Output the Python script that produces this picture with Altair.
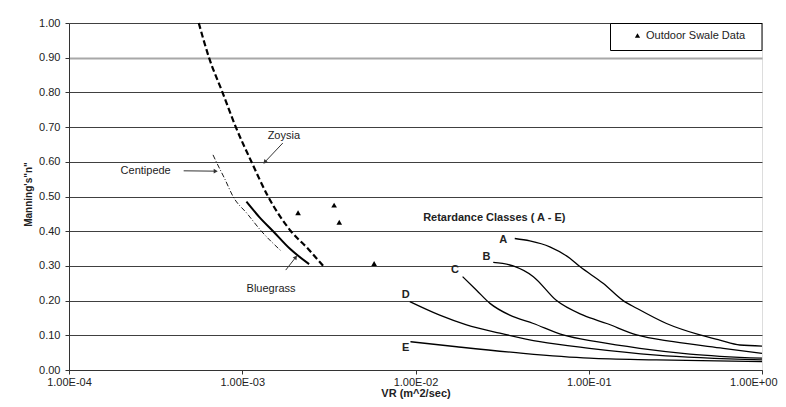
import altair as alt
import pandas as pd

# ---------------- data ----------------
zoysia_x = [5.61e-4, 6.43e-4, 7.69e-4, 9.18e-4, 1.13e-3, 1.41e-3, 1.91e-3, 2.39e-3, 2.99e-3]
zoysia_n = [1.00, 0.90, 0.80, 0.70, 0.60, 0.50, 0.40, 0.35, 0.295]

bluegrass_x = [1.057e-3, 1.259e-3, 1.507e-3, 1.879e-3, 2.432e-3]
bluegrass_n = [0.485, 0.44, 0.40, 0.35, 0.305]

centipede_x = [6.78e-4, 7.08e-4, 7.94e-4, 8.85e-4, 1.07e-3, 1.29e-3, 1.66e-3]
centipede_n = [0.62, 0.60, 0.55, 0.50, 0.45, 0.40, 0.345]

a_x = [0.0374, 0.0457, 0.0596, 0.0778, 0.0889, 0.121, 0.158, 0.189, 0.281, 0.438, 0.571, 0.745, 1.0]
a_n = [0.379, 0.372, 0.355, 0.322, 0.298, 0.25, 0.20, 0.178, 0.134, 0.101, 0.086, 0.072, 0.069]

b_x = [0.0281, 0.0366, 0.0479, 0.0652, 0.0929, 0.127, 0.189, 0.308, 0.597, 1.0]
b_n = [0.31, 0.300, 0.269, 0.20, 0.158, 0.134, 0.101, 0.0815, 0.0625, 0.048]

c_x = [0.0187, 0.0225, 0.0269, 0.0350, 0.0479, 0.0711, 0.111, 0.197, 0.384, 1.0]
c_n = [0.269, 0.23, 0.192, 0.158, 0.134, 0.101, 0.0815, 0.0625, 0.046, 0.034]

d_x = [9.27e-3, 0.0138, 0.0197, 0.0307, 0.0522, 0.101, 0.246, 1.0]
d_n = [0.197, 0.158, 0.13, 0.106, 0.0815, 0.0625, 0.043, 0.029]

e_x = [9.35e-3, 0.0173, 0.0419, 0.101, 0.246, 1.0]
e_n = [0.0815, 0.067, 0.048, 0.034, 0.029, 0.024]

swale_x = [2.10e-3, 3.39e-3, 3.63e-3, 5.77e-3]
swale_n = [0.453, 0.475, 0.426, 0.307]

# annotations (text, x, n)
plain_labels = ["Zoysia", "Centipede", "Bluegrass"]
plain_x = [1.738e-3, 2.77e-4, 1.466e-3]
plain_n = [0.674, 0.574, 0.233]

class_labels = ["A", "B", "C", "D", "E"]
class_x = [0.0321, 0.0257, 0.01687, 8.79e-3, 8.79e-3]
class_n = [0.374, 0.326, 0.288, 0.216, 0.0625]

heading_text = ["Retardance Classes ( A - E)"]
heading_x = [1.107e-2]
heading_n = [0.437]

# arrows: tail -> head
arrow_x1 = [1.714e-3, 4.59e-4, 1.782e-3]
arrow_n1 = [0.654, 0.574, 0.288]
arrow_x2 = [1.349e-3, 7.03e-4, 2.037e-3]
arrow_n2 = [0.599, 0.573, 0.325]
arrow_angle = [223, 90, 38]

y_ticks = [0.0, 0.1, 0.2, 0.3, 0.4, 0.5, 0.6, 0.7, 0.8, 0.9, 1.0]
x_ticks = [1e-4, 1e-3, 1e-2, 1e-1, 1.0]

# ---------------- tables ----------------
rows = []
for name, xs, ns in [("Zoysia", zoysia_x, zoysia_n), ("Bluegrass", bluegrass_x, bluegrass_n),
                     ("Centipede", centipede_x, centipede_n), ("A", a_x, a_n), ("B", b_x, b_n),
                     ("C", c_x, c_n), ("D", d_x, d_n), ("E", e_x, e_n)]:
    for i, (xv, nv) in enumerate(zip(xs, ns)):
        rows.append({"series": name, "x": xv, "n": nv, "order": i})
curves = pd.DataFrame(rows)

swale = pd.DataFrame({"x": swale_x, "n": swale_n, "kind": ["Outdoor Swale Data"] * len(swale_x)})
plain = pd.DataFrame({"label": plain_labels, "x": plain_x, "n": plain_n})
classes = pd.DataFrame({"label": class_labels, "x": class_x, "n": class_n})
heading = pd.DataFrame({"label": heading_text, "x": heading_x, "n": heading_n})
arrows = pd.DataFrame({"x": arrow_x1, "n": arrow_n1, "x2": arrow_x2, "n2": arrow_n2, "angle": arrow_angle})

FONT = "Liberation Sans"
TXT = "#222222"

xscale = alt.Scale(type="log", domain=[1e-4, 1.0])
yscale = alt.Scale(domain=[0, 1])

x_axis = alt.Axis(
    values=x_ticks,
    labelExpr="datum.value >= 1 ? '1.00E+00' : '1.00E-0' + round(-log(datum.value)/LN10)",
    labelAlign={"condition": {"test": "datum.value >= 1", "value": "right"}, "value": "center"},
    labelOffset={"condition": {"test": "datum.value >= 1", "value": 15}, "value": 0},
    grid=False, tickSize=4, labelPadding=2, labelFontSize=11, labelColor=TXT,
    domainColor="#333333", tickColor="#333333", labelFlush=False, labelOverlap=False,
    title="VR (m^2/sec)", titleFontSize=11, titleFontWeight="bold", titleColor=TXT,
    titleBaseline="middle", titleY=23,
)
y_axis = alt.Axis(
    values=y_ticks, format=".2f", grid=True, labelOverlap=False,
    gridColor={"condition": {"test": "abs(datum.value - 0.9) < 0.001", "value": "#a8a8a8"}, "value": "#404040"},
    gridWidth={"condition": {"test": "abs(datum.value - 0.9) < 0.001", "value": 2}, "value": 1},
    tickSize=4, labelPadding=5, labelFontSize=11, labelColor=TXT,
    domainColor="#333333", tickColor="#333333",
    title="Manning's\"n\"", titleFontSize=10, titleFontWeight="bold", titleColor=TXT,
    titleAngle=270, titleBaseline="middle", titleAlign="center", titleX=-41, titleY=171,
)


def X(field):
    return alt.X(f"{field}:Q", scale=xscale, axis=x_axis)


def Y(field):
    return alt.Y(f"{field}:Q", scale=yscale, axis=y_axis)


def curve_layer(names, width, dash=None):
    kw = dict(color="black", strokeWidth=width, interpolate="monotone")
    if dash:
        kw["strokeDash"] = dash
    return alt.Chart(curves).transform_filter(
        alt.FieldOneOfPredicate(field="series", oneOf=names)
    ).mark_line(**kw).encode(
        x=X("x"), y=Y("n"), detail="series:N", order="order:Q"
    )


zoysia_layer = curve_layer(["Zoysia"], 2.2, [6, 3])
blue_layer = curve_layer(["Bluegrass"], 2)
cent_layer = curve_layer(["Centipede"], 0.9, [5, 2, 1, 2])
class_layer = curve_layer(["A", "B", "C", "D", "E"], 1.3)

box = alt.Chart(pd.DataFrame({"k": [0]})).mark_rect(
    fill="white", stroke="black", strokeWidth=1
).encode(x=alt.value(541.5), x2=alt.value(693), y=alt.value(0.5), y2=alt.value(27.5))

swale_layer = alt.Chart(swale).mark_point(filled=True, size=32, opacity=1).encode(
    x=X("x"), y=Y("n"),
    shape=alt.Shape("kind:N", scale=alt.Scale(range=["triangle-up"]),
                    legend=alt.Legend(title=None, orient="none", legendX=563, legendY=7,
                                      labelFontSize=11, labelColor=TXT, labelFont=FONT,
                                      symbolSize=28, symbolFillColor="black", symbolStrokeColor="black",
                                      labelOffset=3, padding=0, zindex=2)),
    color=alt.value("black"),
)

plain_layer = alt.Chart(plain).mark_text(fontSize=11, color=TXT, font=FONT).encode(
    x=X("x"), y=Y("n"), text="label:N")
class_text = alt.Chart(classes).mark_text(fontSize=11, fontWeight="bold", color=TXT, font=FONT).encode(
    x=X("x"), y=Y("n"), text="label:N")
heading_layer = alt.Chart(heading).mark_text(fontSize=11, fontWeight="bold", color=TXT, font=FONT,
                                             align="left").encode(x=X("x"), y=Y("n"), text="label:N")

arrow_lines = alt.Chart(arrows).mark_rule(color="#333333", strokeWidth=1).encode(
    x=X("x"), y=Y("n"), x2="x2:Q", y2="n2:Q")
arrow_heads = alt.Chart(arrows).mark_point(shape="triangle-up", filled=True, size=22, opacity=1,
                                           color="#333333").encode(
    x=X("x2"), y=Y("n2"), angle=alt.Angle("angle:Q", scale=None))

chart = alt.layer(
    cent_layer, zoysia_layer, blue_layer, class_layer,
    box, swale_layer, plain_layer, class_text, heading_layer, arrow_lines, arrow_heads,
).properties(
    width=693, height=347,
    autosize=alt.AutoSizeParams(type="none"),
    padding={"left": 61, "top": 15, "right": 16, "bottom": 29},
    background="white",
).configure_view(stroke=None).configure(font=FONT)

chart.save("out.html", embed_options={"renderer": "svg", "actions": False})
